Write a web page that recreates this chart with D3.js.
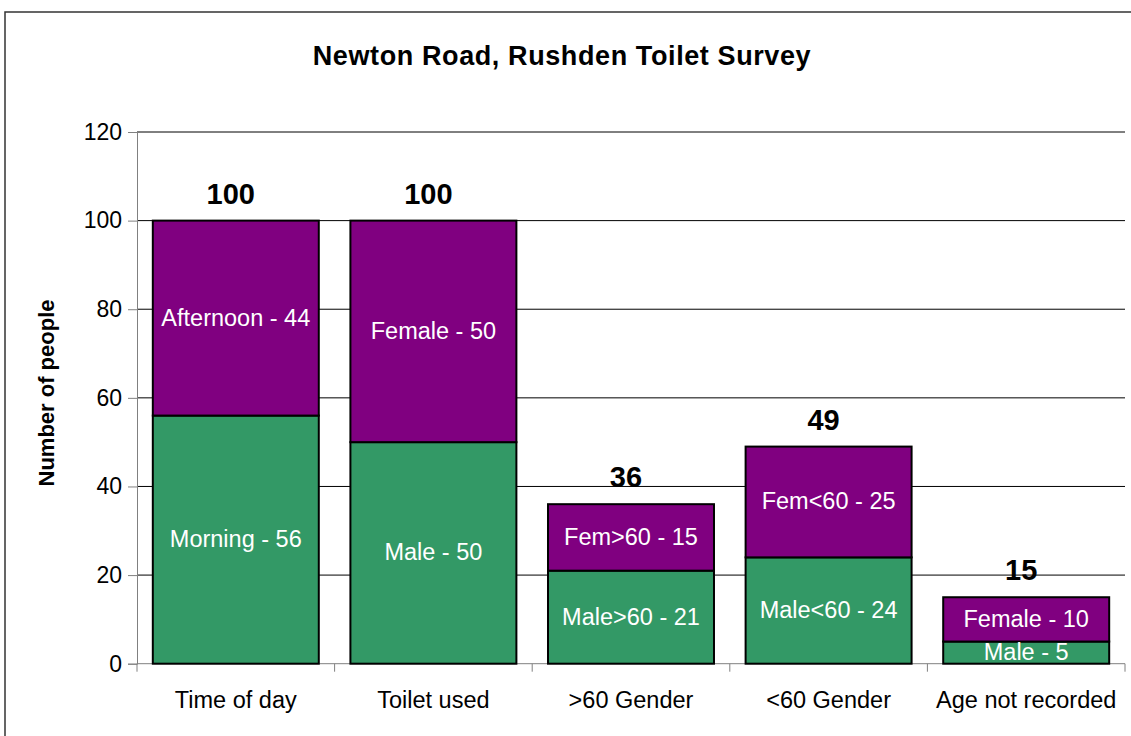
<!DOCTYPE html>
<html><head><meta charset="utf-8">
<script src="https://cdn.jsdelivr.net/npm/d3@7"></script>
<style>body{margin:0;background:#fff}svg{display:block;font-family:"Liberation Sans",Arial,sans-serif}</style>
</head><body><svg id="c" width="1131" height="736"></svg>
<script>
const categories = ["Time of day","Toilet used",">60 Gender","<60 Gender","Age not recorded"];
const lowerValues = [56,50,21,24,5];
const upperValues = [44,50,15,25,10];
const lowerLabels = ["Morning - 56","Male - 50","Male>60 - 21","Male<60 - 24","Male - 5"];
const upperLabels = ["Afternoon - 44","Female - 50","Fem>60 - 15","Fem<60 - 25","Female - 10"];
const yTicks = [0,20,40,60,80,100,120];

const svg = d3.select("#c");
const L=137,R=1125,T=132,B=663.7;
const x = d3.scaleBand().domain(categories).range([L,R]).paddingInner(0.16).paddingOuter(0.08);
const y = d3.scaleLinear().domain([0,120]).range([B,T]);

svg.append("rect").attr("x",5).attr("y",12).attr("width",1140).attr("height",740)
  .attr("fill","none").attr("stroke","#333").attr("stroke-width",1.5);

svg.append("text").attr("x",562).attr("y",65).attr("text-anchor","middle")
  .attr("font-size",27).attr("font-weight","bold").attr("letter-spacing",0.6).text("Newton Road, Rushden Toilet Survey");

// gridlines
svg.append("g").selectAll("line").data(yTicks.filter(d=>d>0)).join("line")
  .attr("x1",L).attr("x2",R).attr("y1",d=>y(d)).attr("y2",d=>y(d)).attr("stroke","#000").attr("stroke-width",1);

// y axis
const ya = svg.append("g").attr("transform",`translate(${L},0)`).call(d3.axisLeft(y).tickValues(yTicks).tickSize(9).tickPadding(6));
ya.select(".domain").attr("stroke","#808080");
ya.selectAll(".tick line").attr("stroke","#808080");
ya.selectAll("text").attr("font-size",23).attr("font-family","Liberation Sans, Arial").attr("fill","#000");

// x axis
const xa = svg.append("g").attr("transform",`translate(0,${B})`);
xa.append("line").attr("x1",L).attr("x2",R).attr("y1",0).attr("y2",0).attr("stroke","#808080");
xa.selectAll(".tk").data(d3.range(categories.length+1)).join("line")
  .attr("x1",i=>L+i*x.step()).attr("x2",i=>L+i*x.step()).attr("y1",0).attr("y2",8).attr("stroke","#808080");
xa.selectAll(".lbl").data(categories).join("text")
  .attr("x",d=>x(d)+x.bandwidth()/2).attr("y",44).attr("text-anchor","middle").attr("font-size",23.5)
  .text(d=>d);

// bars
const g = svg.append("g");
categories.forEach((c,i)=>{
  const lo=lowerValues[i], up=upperValues[i];
  g.append("rect").attr("x",x(c)).attr("width",x.bandwidth()).attr("y",y(lo)).attr("height",y(0)-y(lo))
    .attr("fill","#339966").attr("stroke","#000").attr("stroke-width",2);
  g.append("rect").attr("x",x(c)).attr("width",x.bandwidth()).attr("y",y(lo+up)).attr("height",y(lo)-y(lo+up))
    .attr("fill","#800080").attr("stroke","#000").attr("stroke-width",2);
  const cx = x(c)+x.bandwidth()/2;
  g.append("text").attr("x",cx).attr("y",y(lo/2)).attr("dy","0.32em").attr("text-anchor","middle")
    .attr("fill","#fff").attr("font-size",23.5).text(lowerLabels[i]);
  g.append("text").attr("x",cx).attr("y",y(lo+up/2)).attr("dy","0.32em").attr("text-anchor","middle")
    .attr("fill","#fff").attr("font-size",23.5).text(upperLabels[i]);
  g.append("text").attr("x",cx-5).attr("y",y(lo+up)-17).attr("text-anchor","middle")
    .attr("font-size",29).attr("font-weight","bold").text(lo+up);
});

svg.append("text").attr("transform","translate(54,393) rotate(-90)").attr("text-anchor","middle")
  .attr("font-size",22).attr("font-weight","bold").text("Number of people");
</script></body></html>
